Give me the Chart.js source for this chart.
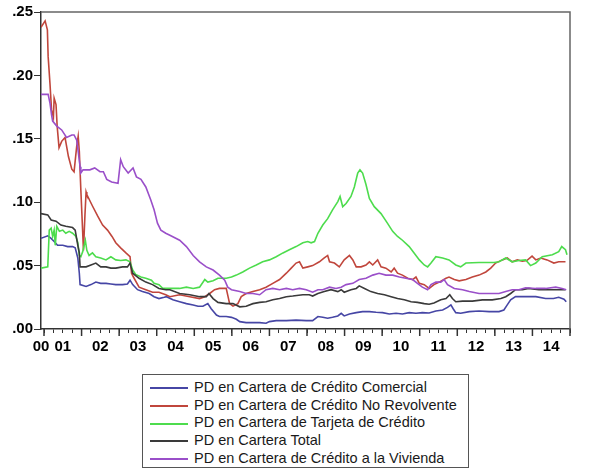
<!DOCTYPE html>
<html>
<head>
<meta charset="utf-8">
<script src="https://cdn.jsdelivr.net/npm/chart.js@4.4.1/dist/chart.umd.min.js"></script>
<style>
  body { margin: 0; background: #fff; }
  #marco { position: absolute; left: 0; top: 0; width: 589px; height: 362px; }
  #leyenda {
    position: absolute; left: 142px; top: 374px; width: 327px; height: 94px;
    box-sizing: border-box; border: 1px solid #555; padding-top: 4px;
    font-family: "Liberation Sans", Arial, sans-serif; font-size: 14.5px; color: #1a1a1a;
  }
  #leyenda div { height: 17.7px; line-height: 17.7px; white-space: nowrap; }
  #leyenda span.linea {
    display: inline-block; width: 38px; height: 2px; margin: 0 6px 0 7px;
    vertical-align: middle;
  }
</style>
</head>
<body>
<div id="marco"><canvas id="grafica"></canvas></div>
<div id="leyenda"></div>
<script>
// Probabilidad de incumplimiento (PD) por cartera, datos mensuales aprox. dic-2000 a dic-2014
// cada punto: [año decimal, PD]
const etiquetasSeries = [
    'PD en Cartera de Crédito Comercial',
    'PD en Cartera de Crédito No Revolvente',
    'PD en Cartera de Tarjeta de Crédito',
    'PD en Cartera Total',
    'PD en Cartera de Crédito a la Vivienda'
];
const coloresSeries = ['#4646a5', '#c0463c', '#4ddc4d', '#3a3a3a', '#9a4fc9'];
const etiquetasAnios = ['00', '01', '02', '03', '04', '05', '06', '07', '08', '09', '10', '11', '12', '13', '14'];
const ejeMin = 2000.92;
const ejeMax = 2015;

const pdComercial = [
    [2000.92, 0.0715], [2001.10, 0.0735], [2001.19, 0.0715], [2001.27, 0.069], [2001.36, 0.066],
    [2001.50, 0.066], [2001.63, 0.065], [2001.76, 0.065], [2001.83, 0.064], [2001.90, 0.056],
    [2001.94, 0.044], [2001.96, 0.035], [2002.12, 0.0335], [2002.25, 0.035], [2002.38, 0.037],
    [2002.51, 0.036], [2002.65, 0.036], [2002.78, 0.0355], [2002.91, 0.035], [2003.09, 0.035],
    [2003.22, 0.0355], [2003.29, 0.0385], [2003.36, 0.035], [2003.49, 0.031], [2003.62, 0.0295],
    [2003.80, 0.028], [2003.93, 0.0255], [2004.06, 0.024], [2004.20, 0.025], [2004.26, 0.0255],
    [2004.43, 0.023], [2004.61, 0.0215], [2004.79, 0.020], [2004.97, 0.019], [2005.10, 0.018],
    [2005.23, 0.018], [2005.36, 0.020], [2005.45, 0.016], [2005.59, 0.011], [2005.67, 0.0098],
    [2005.85, 0.0098], [2005.99, 0.0092], [2006.12, 0.0077], [2006.21, 0.0058], [2006.38, 0.005],
    [2006.56, 0.005], [2006.74, 0.005], [2006.91, 0.0045], [2007.00, 0.0058], [2007.18, 0.0066],
    [2007.45, 0.0066], [2007.71, 0.007], [2007.98, 0.0066], [2008.15, 0.0066], [2008.29, 0.0098],
    [2008.42, 0.0092], [2008.55, 0.0085], [2008.68, 0.0092], [2008.82, 0.0103], [2008.91, 0.0124],
    [2008.99, 0.0103], [2009.13, 0.0118], [2009.31, 0.0129], [2009.48, 0.0137], [2009.66, 0.0137],
    [2009.84, 0.0132], [2010.01, 0.0129], [2010.19, 0.0118], [2010.37, 0.0124], [2010.54, 0.0118],
    [2010.72, 0.0129], [2010.90, 0.0124], [2011.07, 0.0129], [2011.25, 0.0126], [2011.43, 0.0142],
    [2011.61, 0.015], [2011.74, 0.017], [2011.83, 0.019], [2011.89, 0.016], [2011.96, 0.0129],
    [2012.09, 0.0124], [2012.32, 0.0137], [2012.58, 0.0142], [2012.85, 0.0137], [2013.11, 0.0137],
    [2013.24, 0.015], [2013.33, 0.019], [2013.42, 0.023], [2013.55, 0.0255], [2013.82, 0.0255],
    [2014.09, 0.0255], [2014.35, 0.024], [2014.56, 0.024], [2014.70, 0.025], [2014.84, 0.0235],
    [2014.90, 0.0215]
];

const pdNoRevolvente = [
    [2000.92, 0.238], [2001.03, 0.243], [2001.09, 0.236], [2001.11, 0.215], [2001.16, 0.193],
    [2001.20, 0.173], [2001.25, 0.167], [2001.27, 0.182], [2001.32, 0.177], [2001.35, 0.160],
    [2001.40, 0.143], [2001.47, 0.148], [2001.56, 0.151], [2001.65, 0.136], [2001.74, 0.126],
    [2001.80, 0.124], [2001.87, 0.144], [2001.91, 0.152], [2001.94, 0.140], [2001.98, 0.110],
    [2002.03, 0.076], [2002.05, 0.062], [2002.09, 0.090], [2002.12, 0.108], [2002.14, 0.106],
    [2002.29, 0.097], [2002.43, 0.089], [2002.56, 0.082], [2002.69, 0.078], [2002.81, 0.073],
    [2002.91, 0.068], [2003.04, 0.064], [2003.18, 0.060], [2003.29, 0.057], [2003.33, 0.044],
    [2003.38, 0.041], [2003.53, 0.033], [2003.71, 0.031], [2003.89, 0.029], [2004.06, 0.029],
    [2004.24, 0.027], [2004.35, 0.0255], [2004.61, 0.027], [2004.88, 0.0255], [2005.14, 0.024],
    [2005.28, 0.0255], [2005.41, 0.028], [2005.54, 0.031], [2005.67, 0.032], [2005.85, 0.032],
    [2005.94, 0.020], [2006.03, 0.018], [2006.16, 0.020], [2006.25, 0.0255], [2006.38, 0.028],
    [2006.56, 0.0295], [2006.74, 0.031], [2006.91, 0.033], [2007.09, 0.036], [2007.27, 0.039],
    [2007.45, 0.044], [2007.58, 0.048], [2007.71, 0.052], [2007.80, 0.053], [2007.89, 0.048],
    [2008.02, 0.049], [2008.15, 0.050], [2008.33, 0.053], [2008.46, 0.056], [2008.55, 0.058],
    [2008.60, 0.053], [2008.73, 0.052], [2008.86, 0.049], [2008.99, 0.0545], [2009.13, 0.058],
    [2009.22, 0.0545], [2009.31, 0.049], [2009.44, 0.049], [2009.57, 0.0505], [2009.66, 0.053],
    [2009.75, 0.0505], [2009.88, 0.0545], [2009.97, 0.049], [2010.10, 0.048], [2010.24, 0.045],
    [2010.32, 0.048], [2010.41, 0.044], [2010.54, 0.0425], [2010.68, 0.040], [2010.81, 0.039],
    [2010.90, 0.041], [2010.99, 0.036], [2011.12, 0.035], [2011.25, 0.032], [2011.38, 0.035],
    [2011.52, 0.037], [2011.70, 0.040], [2011.78, 0.041], [2011.92, 0.039], [2012.05, 0.038],
    [2012.23, 0.039], [2012.40, 0.041], [2012.58, 0.0425], [2012.76, 0.045], [2012.89, 0.048],
    [2013.02, 0.052], [2013.20, 0.0545], [2013.33, 0.056], [2013.46, 0.053], [2013.60, 0.0545],
    [2013.73, 0.0535], [2013.85, 0.054], [2013.99, 0.0575], [2014.09, 0.0545], [2014.22, 0.056],
    [2014.39, 0.0545], [2014.57, 0.052], [2014.70, 0.053], [2014.88, 0.053]
];

const pdTarjeta = [
    [2000.92, 0.048], [2001.10, 0.049], [2001.14, 0.078], [2001.19, 0.0795], [2001.23, 0.073],
    [2001.27, 0.078], [2001.30, 0.066], [2001.34, 0.081], [2001.41, 0.077], [2001.50, 0.078],
    [2001.58, 0.0755], [2001.67, 0.077], [2001.76, 0.0755], [2001.85, 0.073], [2001.90, 0.068],
    [2001.94, 0.058], [2001.98, 0.057], [2002.03, 0.061], [2002.10, 0.070], [2002.14, 0.062],
    [2002.20, 0.058], [2002.29, 0.060], [2002.38, 0.057], [2002.51, 0.056], [2002.65, 0.0545],
    [2002.78, 0.057], [2002.91, 0.0545], [2003.04, 0.054], [2003.18, 0.0545], [2003.29, 0.053],
    [2003.36, 0.0465], [2003.44, 0.043], [2003.58, 0.041], [2003.71, 0.040], [2003.86, 0.0385],
    [2003.93, 0.036], [2004.06, 0.035], [2004.16, 0.032], [2004.35, 0.032], [2004.61, 0.032],
    [2004.79, 0.033], [2004.97, 0.032], [2005.14, 0.033], [2005.28, 0.039], [2005.36, 0.037],
    [2005.50, 0.038], [2005.63, 0.040], [2005.85, 0.040], [2005.99, 0.041], [2006.12, 0.0425],
    [2006.29, 0.045], [2006.47, 0.048], [2006.65, 0.0505], [2006.82, 0.053], [2007.00, 0.0545],
    [2007.18, 0.057], [2007.36, 0.060], [2007.53, 0.0625], [2007.71, 0.065], [2007.89, 0.068],
    [2008.02, 0.069], [2008.11, 0.068], [2008.20, 0.069], [2008.29, 0.0755], [2008.42, 0.082],
    [2008.55, 0.087], [2008.68, 0.094], [2008.82, 0.1005], [2008.88, 0.1045], [2008.95, 0.0965],
    [2009.04, 0.099], [2009.17, 0.1045], [2009.26, 0.112], [2009.35, 0.123], [2009.41, 0.1255],
    [2009.48, 0.123], [2009.57, 0.114], [2009.66, 0.103], [2009.79, 0.0965], [2009.97, 0.091],
    [2010.14, 0.0835], [2010.28, 0.077], [2010.41, 0.073], [2010.54, 0.070], [2010.72, 0.065],
    [2010.85, 0.060], [2010.99, 0.0545], [2011.12, 0.0505], [2011.21, 0.049], [2011.30, 0.052],
    [2011.43, 0.057], [2011.61, 0.056], [2011.78, 0.0545], [2011.96, 0.0505], [2012.09, 0.049],
    [2012.23, 0.052], [2012.58, 0.0525], [2012.98, 0.0525], [2013.11, 0.053], [2013.29, 0.056],
    [2013.46, 0.053], [2013.64, 0.054], [2013.82, 0.0545], [2013.95, 0.050], [2014.09, 0.052],
    [2014.26, 0.057], [2014.53, 0.0585], [2014.70, 0.061], [2014.78, 0.065], [2014.88, 0.0625],
    [2014.92, 0.0585]
];

const pdTotal = [
    [2000.92, 0.091], [2001.10, 0.090], [2001.19, 0.086], [2001.32, 0.085], [2001.45, 0.082],
    [2001.58, 0.081], [2001.76, 0.080], [2001.83, 0.078], [2001.90, 0.066], [2001.94, 0.060],
    [2001.96, 0.049], [2002.12, 0.049], [2002.25, 0.0505], [2002.38, 0.052], [2002.51, 0.049],
    [2002.65, 0.049], [2002.78, 0.048], [2002.91, 0.048], [2003.09, 0.049], [2003.22, 0.049],
    [2003.29, 0.052], [2003.36, 0.044], [2003.53, 0.040], [2003.71, 0.037], [2003.89, 0.035],
    [2004.06, 0.032], [2004.24, 0.031], [2004.35, 0.031], [2004.61, 0.028], [2004.88, 0.027],
    [2005.14, 0.0255], [2005.32, 0.0255], [2005.39, 0.028], [2005.50, 0.024], [2005.63, 0.021],
    [2005.85, 0.020], [2006.03, 0.020], [2006.21, 0.0175], [2006.38, 0.018], [2006.56, 0.020],
    [2006.74, 0.021], [2006.91, 0.0215], [2007.09, 0.023], [2007.27, 0.024], [2007.45, 0.0255],
    [2007.62, 0.026], [2007.89, 0.027], [2008.06, 0.027], [2008.15, 0.026], [2008.29, 0.028],
    [2008.46, 0.0295], [2008.64, 0.031], [2008.82, 0.0295], [2008.91, 0.031], [2008.99, 0.029],
    [2009.17, 0.031], [2009.31, 0.032], [2009.39, 0.034], [2009.53, 0.032], [2009.70, 0.0295],
    [2009.88, 0.028], [2010.06, 0.027], [2010.24, 0.0255], [2010.41, 0.024], [2010.59, 0.023],
    [2010.77, 0.0215], [2010.94, 0.021], [2011.12, 0.020], [2011.25, 0.0195], [2011.38, 0.0205],
    [2011.56, 0.023], [2011.70, 0.024], [2011.80, 0.027], [2011.87, 0.024], [2011.96, 0.0215],
    [2012.14, 0.022], [2012.40, 0.022], [2012.67, 0.023], [2012.93, 0.023], [2013.16, 0.024],
    [2013.29, 0.0255], [2013.42, 0.028], [2013.55, 0.031], [2013.73, 0.031], [2013.90, 0.032],
    [2014.17, 0.031], [2014.44, 0.031], [2014.70, 0.031], [2014.88, 0.031]
];

const pdVivienda = [
    [2000.92, 0.185], [2001.11, 0.185], [2001.16, 0.178], [2001.20, 0.169], [2001.23, 0.164],
    [2001.34, 0.160], [2001.47, 0.157], [2001.60, 0.151], [2001.74, 0.153], [2001.80, 0.153],
    [2001.87, 0.149], [2001.91, 0.140], [2001.96, 0.128], [2001.98, 0.123], [2002.04, 0.1255],
    [2002.22, 0.1255], [2002.35, 0.127], [2002.49, 0.124], [2002.58, 0.124], [2002.67, 0.118],
    [2002.80, 0.116], [2002.97, 0.115], [2003.04, 0.1335], [2003.11, 0.128], [2003.24, 0.123],
    [2003.37, 0.127], [2003.46, 0.120], [2003.58, 0.118], [2003.71, 0.112], [2003.84, 0.102],
    [2003.93, 0.094], [2004.02, 0.0835], [2004.11, 0.078], [2004.24, 0.0755], [2004.35, 0.074],
    [2004.61, 0.070], [2004.79, 0.065], [2004.97, 0.058], [2005.14, 0.053], [2005.32, 0.049],
    [2005.50, 0.0465], [2005.67, 0.0425], [2005.81, 0.0385], [2005.89, 0.033], [2005.99, 0.031],
    [2006.21, 0.0295], [2006.38, 0.028], [2006.56, 0.028], [2006.74, 0.027], [2006.91, 0.031],
    [2007.09, 0.032], [2007.27, 0.031], [2007.45, 0.032], [2007.62, 0.031], [2007.80, 0.032],
    [2007.98, 0.031], [2008.15, 0.029], [2008.29, 0.031], [2008.42, 0.031], [2008.60, 0.033],
    [2008.77, 0.032], [2008.91, 0.033], [2009.04, 0.035], [2009.22, 0.036], [2009.39, 0.039],
    [2009.57, 0.040], [2009.75, 0.0425], [2009.92, 0.044], [2010.10, 0.0425], [2010.28, 0.0425],
    [2010.46, 0.041], [2010.63, 0.040], [2010.81, 0.039], [2010.94, 0.036], [2011.07, 0.033],
    [2011.21, 0.031], [2011.30, 0.035], [2011.43, 0.037], [2011.56, 0.037], [2011.65, 0.039],
    [2011.74, 0.035], [2011.92, 0.032], [2012.14, 0.031], [2012.32, 0.0295], [2012.58, 0.028],
    [2012.85, 0.028], [2013.11, 0.028], [2013.29, 0.0295], [2013.46, 0.031], [2013.64, 0.031],
    [2013.82, 0.0325], [2014.09, 0.032], [2014.35, 0.032], [2014.62, 0.033], [2014.79, 0.032],
    [2014.90, 0.031]
];

const seriesPD = [pdComercial, pdNoRevolvente, pdTarjeta, pdTotal, pdVivienda];

const fuenteEjes = {
    family: '"Liberation Sans", Arial, sans-serif',
    size: 15,
    weight: 'bold'
};

// marco del área de gráfica y marcas largas de cada año
const marcoPlugin = {
    id: 'marco',
    afterDraw(chart) {
        const { ctx, chartArea, scales } = chart;
        ctx.save();
        ctx.strokeStyle = '#666';
        ctx.lineWidth = 1.5;
        ctx.beginPath();
        ctx.moveTo(chartArea.left, chartArea.top);
        ctx.lineTo(chartArea.right, chartArea.top);
        ctx.lineTo(chartArea.right, chartArea.bottom);
        ctx.stroke();
        ctx.strokeStyle = '#333';
        ctx.lineWidth = 1.5;
        for (let a = 2001; a <= ejeMax; a++) {
            const x = scales.x.getPixelForValue(a);
            ctx.beginPath();
            ctx.moveTo(x, chartArea.bottom);
            ctx.lineTo(x, chartArea.bottom + 7);
            ctx.stroke();
        }
        ctx.restore();
    }
};

const grafica = new Chart(document.getElementById('grafica'), {
    type: 'line',
    data: {
        datasets: seriesPD.map((serie, i) => ({
            label: etiquetasSeries[i],
            data: serie.map(p => ({ x: p[0], y: p[1] })),
            borderColor: coloresSeries[i],
            borderWidth: 1.6,
            pointRadius: 0,
            tension: 0,
            fill: false,
            order: seriesPD.length - i
        }))
    },
    options: {
        responsive: true,
        maintainAspectRatio: false,
        animation: false,
        layout: { padding: { top: 12, right: 19, left: 0, bottom: 0 } },
        plugins: {
            legend: { display: false },
            tooltip: { enabled: false }
        },
        scales: {
            x: {
                type: 'linear',
                min: ejeMin,
                max: ejeMax,
                afterBuildTicks(scale) {
                    const marcas = [{ value: ejeMin }];
                    for (let q = 0; q <= 56; q++) marcas.push({ value: 2001 + q / 4 });
                    scale.ticks = marcas;
                },
                afterFit(scale) { scale.height = 33; },
                grid: {
                    drawOnChartArea: false,
                    drawTicks: true,
                    tickLength: 4,
                    tickColor: ctx => ctx.index === 0 ? 'rgba(0,0,0,0)' : '#333'
                },
                border: { color: '#333', width: 1.5 },
                ticks: {
                    autoSkip: false,
                    maxRotation: 0,
                    padding: 5,
                    color: '#000',
                    font: fuenteEjes,
                    callback(value, index) {
                        if (index === 0) return etiquetasAnios[0];
                        if (Math.abs(value % 1 - 0.5) < 1e-6) return etiquetasAnios[Math.floor(value) - 2000];
                        return '';
                    }
                }
            },
            y: {
                min: 0,
                max: 0.25,
                afterFit(scale) { scale.width = 41; },
                grid: {
                    drawOnChartArea: false,
                    drawTicks: true,
                    tickLength: 7,
                    tickColor: '#333'
                },
                border: { color: '#333', width: 1.5 },
                ticks: {
                    stepSize: 0.05,
                    padding: 1,
                    color: '#000',
                    font: fuenteEjes,
                    callback: v => v.toFixed(2).replace(/^0/, '')
                }
            }
        }
    },
    plugins: [marcoPlugin]
});

// leyenda en caja, una serie por renglón
const leyenda = document.getElementById('leyenda');
grafica.data.datasets.forEach(ds => {
    const fila = document.createElement('div');
    const linea = document.createElement('span');
    linea.className = 'linea';
    linea.style.backgroundColor = ds.borderColor;
    fila.appendChild(linea);
    fila.appendChild(document.createTextNode(ds.label));
    leyenda.appendChild(fila);
});
</script>
</body>
</html>
